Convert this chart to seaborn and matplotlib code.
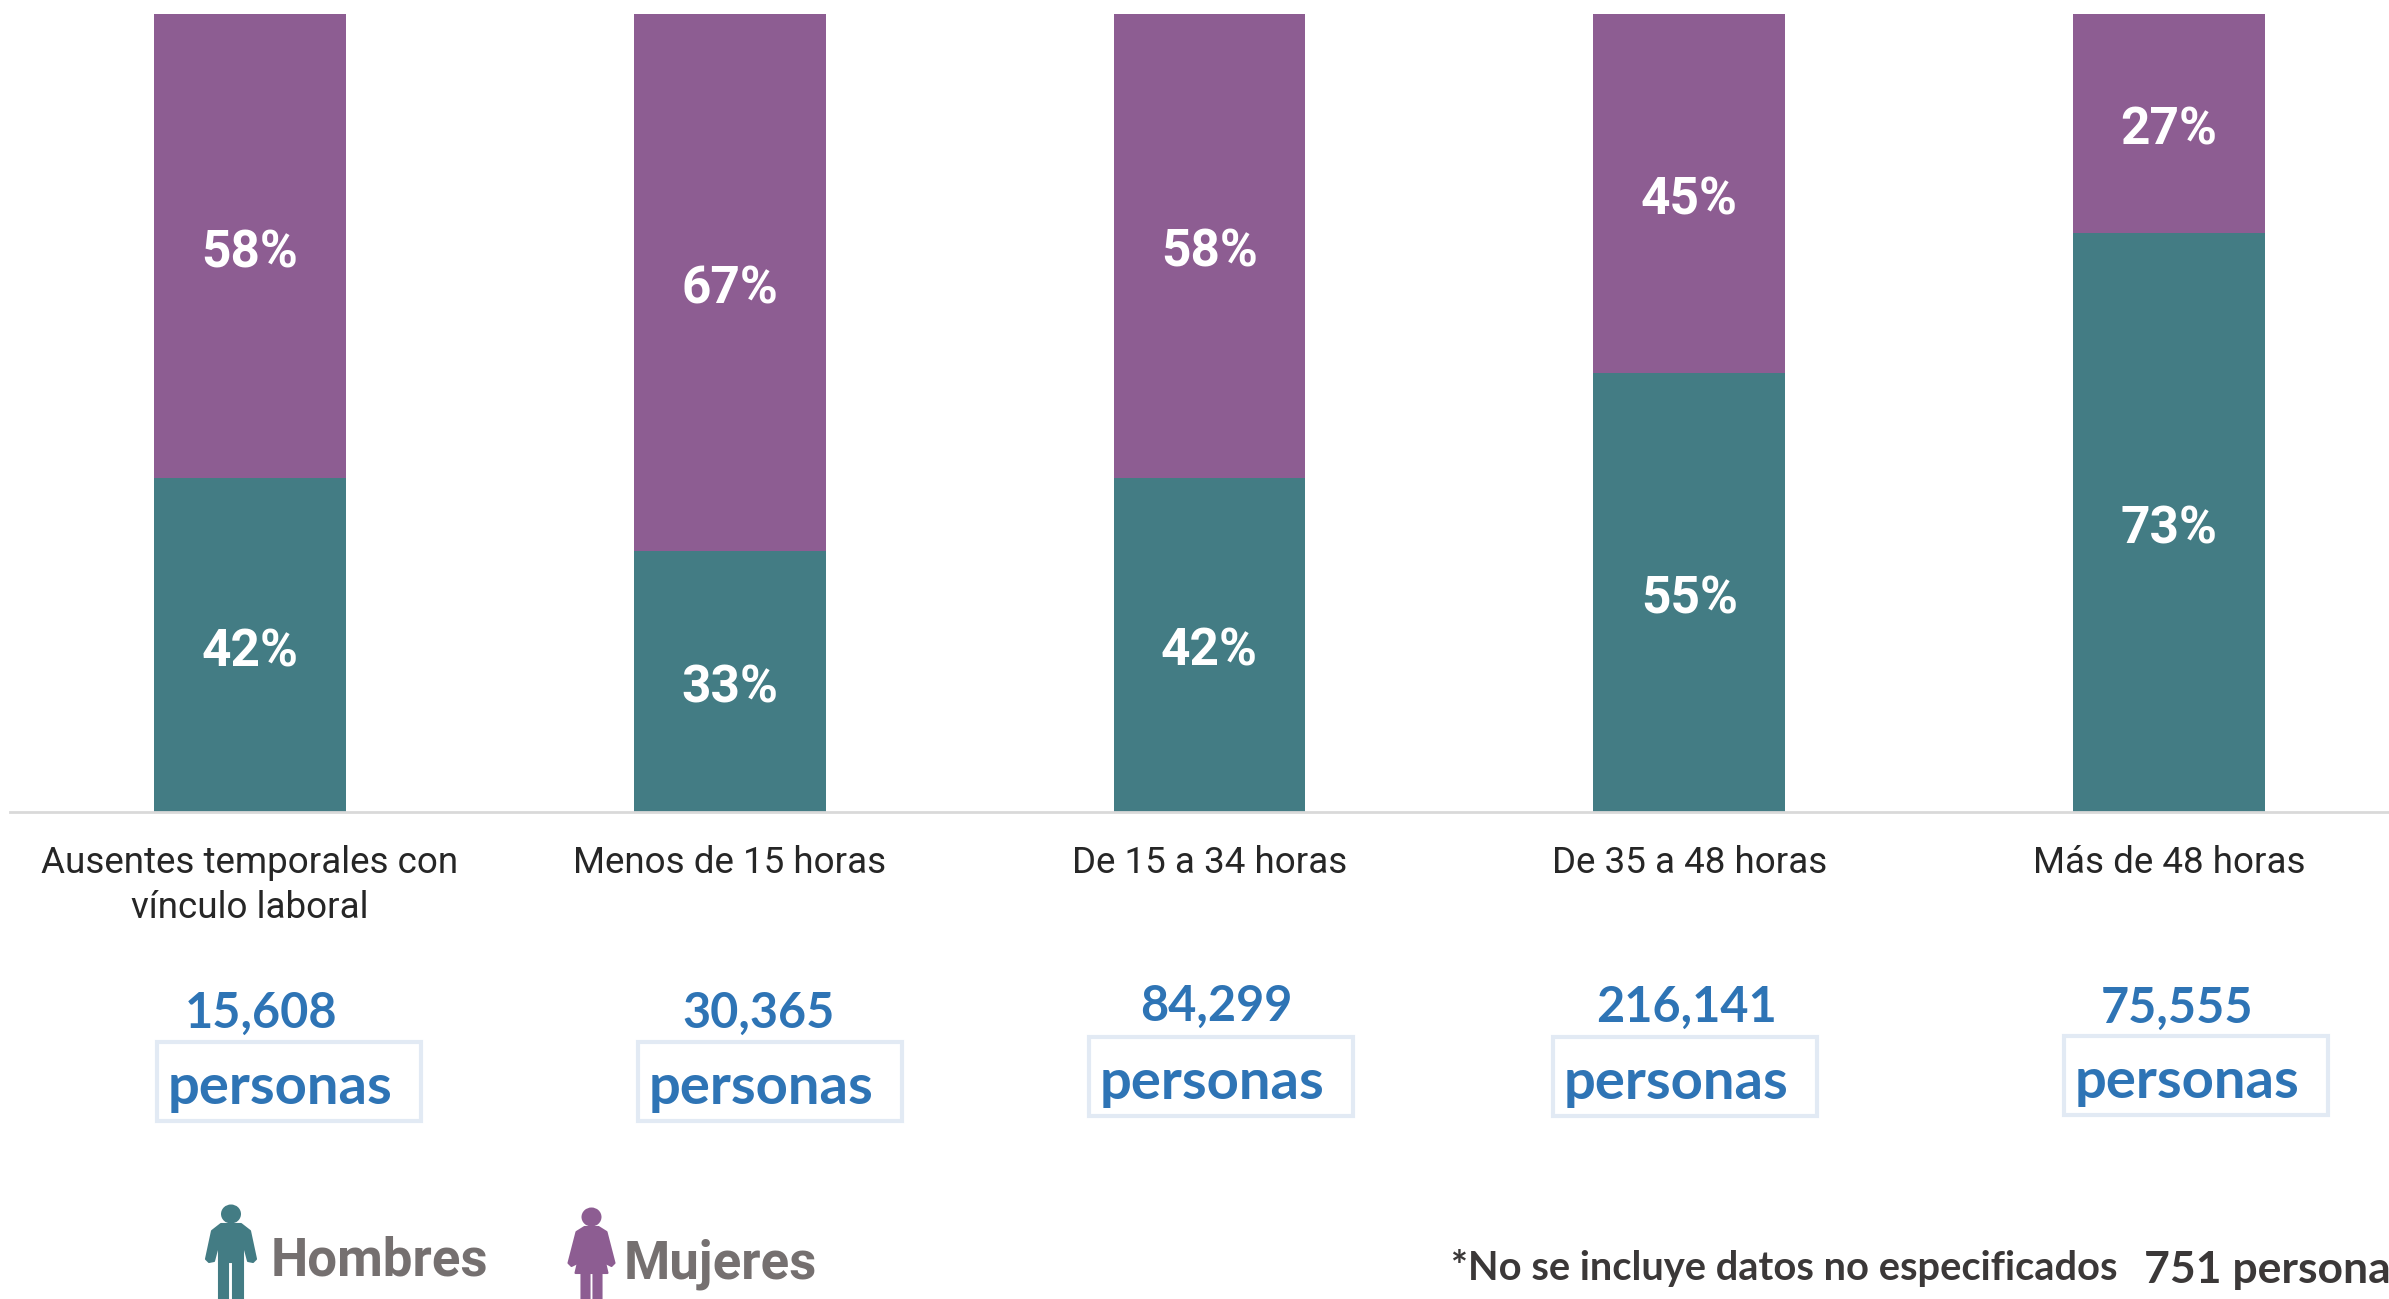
import matplotlib
matplotlib.use("Agg")
import matplotlib.pyplot as plt
from matplotlib.patches import Ellipse, Polygon, Rectangle
import pandas as pd
import seaborn as sns

# Datos
categorias = ["Ausentes temporales con\nvínculo laboral", "Menos de 15 horas",
              "De 15 a 34 horas", "De 35 a 48 horas", "Más de 48 horas"]
hombres = [41.8, 32.7, 41.9, 55.0, 72.6]
mujeres = [58.2, 67.3, 58.1, 45.0, 27.4]
totales = ["15,608", "30,365", "84,299", "216,141", "75,555"]

TEAL = "#437C84"
MORADO = "#8D5D92"
AZUL = "#2E74B5"
W, H = 2389, 1299

sns.set_theme(style="white")
plt.rcParams["font.family"] = ["Lato", "DejaVu Sans"]

df = pd.DataFrame({"categoria": categorias, "hombres": hombres, "mujeres": mujeres})

fig = plt.figure(figsize=(W / 100, H / 100), dpi=100)
ax = fig.add_axes([10 / W, (H - 812) / H, 2399 / W, 798 / H])

sns.barplot(data=df, x="categoria", y="hombres", color=TEAL, saturation=1, width=0.4,
            linewidth=0, ax=ax)
sns.barplot(data=df, x="categoria", y="mujeres", bottom=df["hombres"], color=MORADO,
            saturation=1, width=0.4, linewidth=0, ax=ax)

for cont in ax.containers:
    ax.bar_label(cont, fmt="%.0f%%", label_type="center", color="white", padding=-5,
                 fontsize=37, fontweight="bold", family="Roboto")

ax.set_xlim(-0.5, 4.5)
ax.set_ylim(0, 100)
ax.set_xlabel("")
ax.set_ylabel("")
ax.set_yticks([])
ax.tick_params(axis="x", length=0, pad=24, labelsize=26.5, colors="#262626")
for lab in ax.get_xticklabels():
    lab.set_family("Roboto")
    lab.set_linespacing(1.32)
sns.despine(ax=ax, left=True)
ax.spines["bottom"].set_color("#D9D9D9")
ax.spines["bottom"].set_linewidth(2)
ax.patch.set_alpha(0)

# Capa en pixeles para los textos sueltos
capa = fig.add_axes([0, 0, 1, 1])
capa.set_xlim(0, W)
capa.set_ylim(H, 0)
capa.axis("off")

num_x = [261, 759, 1216, 1687, 2177]
num_y = [1013, 1013, 1006, 1007, 1008]
caja_x = [157, 638, 1089, 1553, 2064]
caja_y = [1042, 1042, 1037, 1037, 1036]
for total, nx, ny, cx, cy in zip(totales, num_x, num_y, caja_x, caja_y):
    capa.text(nx, ny, total, color=AZUL, fontsize=35, fontweight="bold", ha="center", va="center")
    capa.add_patch(Rectangle((cx, cy), 264, 79, fill=False, ec="#E2EAF4", lw=3))
    capa.text(cx + 11, cy + 46, "personas", color=AZUL, fontsize=40.5, fontweight="bold",
              ha="left", va="center")

# Iconos: contorno como desplazamiento desde el centro de la cabeza
contorno_hombre = [(-10, 10), (10, 10), (19, 17), (25, 45), (22, 48), (17, 47), (12, 28), (12, 85), (2, 85),
                   (2, 48), (-3, 48), (-3, 85), (-12, 85), (-12, 28), (-17, 47), (-22, 48), (-25, 45), (-19, 17)]
contorno_mujer = [(-7, 10), (7, 10), (15, 15), (23, 46), (20, 49), (16, 47), (9, 26), (16, 56), (10, 56),
                  (10, 82), (2, 82), (2, 56), (-2, 56), (-2, 82), (-10, 82), (-10, 56), (-16, 56), (-9, 26),
                  (-16, 47), (-20, 49), (-23, 46), (-15, 15)]


def persona(x, y, contorno, color):
    capa.add_patch(Ellipse((x, y), 20, 19, color=color, lw=0))
    pts = [(x + dx, y + dy) for dx, dy in contorno]
    capa.add_patch(Polygon(pts, closed=True, fc=color, ec=color, lw=1.5, joinstyle="round"))


persona(231, 1214, contorno_hombre, TEAL)
persona(591.5, 1217, contorno_mujer, MORADO)
capa.text(271, 1261, "Hombres", color="#757070", fontsize=38, fontweight="bold",
          family="Roboto", ha="left", va="center")
capa.text(624, 1264, "Mujeres", color="#757070", fontsize=38, fontweight="bold",
          family="Roboto", ha="left", va="center")

capa.text(1451, 1268, "*No se incluye datos no especificados", color="#3B3838", fontsize=28.7,
          fontweight="bold", ha="left", va="center")
capa.text(2144, 1270, "751 persona", color="#3B3838", fontsize=32,
          fontweight="bold", ha="left", va="center")

fig.savefig("out.png", dpi=100)
